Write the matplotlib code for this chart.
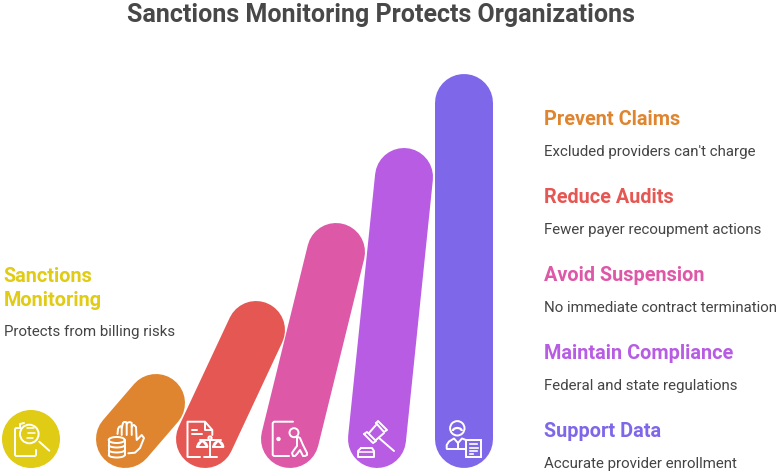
import matplotlib
matplotlib.use("Agg")
import matplotlib.pyplot as plt
from matplotlib.patches import Circle, Rectangle, Arc
from matplotlib.lines import Line2D

W, H = 778, 472
plt.rcParams['font.family'] = ['Roboto', 'DejaVu Sans']

title = "Sanctions Monitoring Protects Organizations"
left_head = ["Sanctions", "Monitoring"]
left_desc = "Protects from billing risks"
heads = ["Prevent Claims", "Reduce Audits", "Avoid Suspension", "Maintain Compliance", "Support Data"]
descs = ["Excluded providers can't charge", "Fewer payer recoupment actions",
         "No immediate contract termination", "Federal and state regulations",
         "Accurate provider enrollment"]
colors = ["#DF8530", "#E55753", "#DE58A8", "#B75CE3", "#7F67EA"]
yellow = "#E0CB15"
bottom_x = [125, 205, 290, 377, 464]
top_x = [156, 256, 336, 404, 464]
top_y = [403, 330, 252, 177, 103]
base_y = 439
head_y = [119.5, 197.5, 275.5, 353.5, 431.5]
desc_y = [152, 230, 308, 386, 464]

fig = plt.figure(figsize=(W/100, H/100), dpi=100)
ax = fig.add_axes([0, 0, 1, 1])
ax.set_xlim(0, W); ax.set_ylim(H, 0); ax.axis('off')
PX = 72/100
LW = 1.4

ax.add_patch(Circle((31, base_y), 29, fc=yellow, ec='none', zorder=2))
for i in range(5):
    ax.add_line(Line2D([bottom_x[i], top_x[i]], [base_y, top_y[i]], lw=58*PX, color=colors[i],
                       solid_capstyle='round', zorder=2+i*0.1))

def L(xs, ys, lw=LW):
    ax.add_line(Line2D(xs, ys, color='white', lw=lw*PX*1.4, solid_capstyle='round',
                       solid_joinstyle='round', zorder=5))
def C(x, y, r, fc='none', lw=LW):
    ax.add_patch(Circle((x, y), r, fc=fc, ec='white', lw=lw*PX*1.4, zorder=5))
def E(x, y, w, h, t1=0, t2=360, lw=LW):
    ax.add_patch(Arc((x, y), w, h, theta1=t1, theta2=t2, color='white', lw=lw*PX*1.4, zorder=5))

# yellow: document and magnifier
L([20, 16, 15, 15, 16, 35, 36, 36], [428, 428, 429, 455, 456, 456, 455, 450])
L([20, 20, 24], [428, 424, 423])
C(29.3, 434, 9.3)
L([39.3, 49.3], [441.7, 450.7])
for y, x1, x2 in [(427.5, 27, 34), (433, 28, 35), (438, 27, 33)]:
    L([x1, x2], [y, y], lw=1.1)

# orange: hand and coins
E(116.7, 440, 16, 6)
for y in [445, 450, 455]:
    E(116.7, y, 16, 5, 0, 180)
L([108.7, 108.7], [440, 455]); L([124.7, 124.7], [440, 455])
L([117.5, 118, 119, 121, 121.7, 121.7], [434, 429, 427, 426, 428, 435])
L([121.7, 123, 124, 126, 126.7, 126.7], [428, 423, 422, 422, 424, 435])
L([126.7, 128, 130, 131.7, 131.7], [424, 422.5, 422, 423, 435])
L([131.7, 132.5, 134, 136, 136.7, 141.7, 144, 140, 135, 128.3],
  [427, 425.5, 425, 427, 440, 435, 438, 448, 452.7, 453.3])

# red: document and scales
L([200, 187.5, 187.5, 205, 212.3, 212.3], [457, 457, 421.7, 421.7, 430, 435])
L([205, 205, 212.3], [421.7, 430, 430])
L([191.7, 196.7], [430, 430]); L([191.7, 201.7], [434, 434])
L([210, 210], [440, 457]); L([204, 216.7], [457, 457]); L([200, 220.7], [440, 440])
C(210, 438, 1.6, fc=colors[1])
for cx in [202.3, 218.3]:
    L([cx - 5, cx, cx + 5], [447, 440, 447])
    L([cx - 5, cx + 5], [447, 447])
    E(cx, 447, 10, 11, 180, 360)

# pink: door and person
L([293, 274, 272.7, 272.7, 274, 289], [421.7, 421.7, 423, 455, 456, 456])
C(278.5, 439, 1.2, fc='white')
C(294, 432.7, 4.5)
L([297, 300, 303, 305, 307, 307, 305, 303, 300, 297, 295, 293, 292, 294, 297, 297],
  [436.5, 438, 445, 449, 453, 455, 456, 456, 450, 454, 456, 456, 453, 450, 446, 437.5])

# purple: gavel
L([376, 378, 387, 384, 376], [423, 421, 430, 432, 423])
L([364, 367, 376, 373, 364], [434, 432, 441, 443, 434])
L([369, 376], [433, 425]); L([376, 384], [440, 433])
L([379, 394], [438, 451])
L([361, 372, 374, 374, 358, 358, 361], [448, 448, 451, 457, 457, 451, 448])
L([358, 374], [452, 452], lw=1.1)

# violet: person and document
C(457.3, 428.3, 7.2)
E(457.3, 431, 9, 6, 180, 360, lw=1.6)
L([446.7, 446.7, 449, 454, 458, 462, 466], [448.5, 445, 441.5, 438.5, 443, 438.5, 440])
L([446.7, 466], [448.5, 448.5]); L([458, 458], [443, 448.5])
ax.add_patch(Rectangle((466, 439.5), 15.5, 17, fc=colors[4], ec='white', lw=LW*PX*1.4, zorder=6))
for y, x2 in [(444, 477), (447.5, 478), (451, 477), (454, 473)]:
    ax.add_line(Line2D([470, x2], [y, y], color='white', lw=1.2*PX*1.4, zorder=7))

ax.text(380.5, 15, title, fontsize=25.0*PX, fontweight='bold', color='#484848', ha='center', va='center')
ax.text(3.5, 276, left_head[0], fontsize=19.9*PX, fontweight='bold', color=yellow, va='center')
ax.text(3.5, 300, left_head[1], fontsize=19.9*PX, fontweight='bold', color=yellow, va='center')
ax.text(4, 332, left_desc, fontsize=15.0*PX, color='#444444', va='center')
for i in range(5):
    ax.text(544, head_y[i], heads[i], fontsize=19.9*PX, fontweight='bold', color=colors[i], va='center')
    ax.text(544, desc_y[i], descs[i], fontsize=15.0*PX, color='#444444', va='center')

fig.savefig('out.png', dpi=100)
